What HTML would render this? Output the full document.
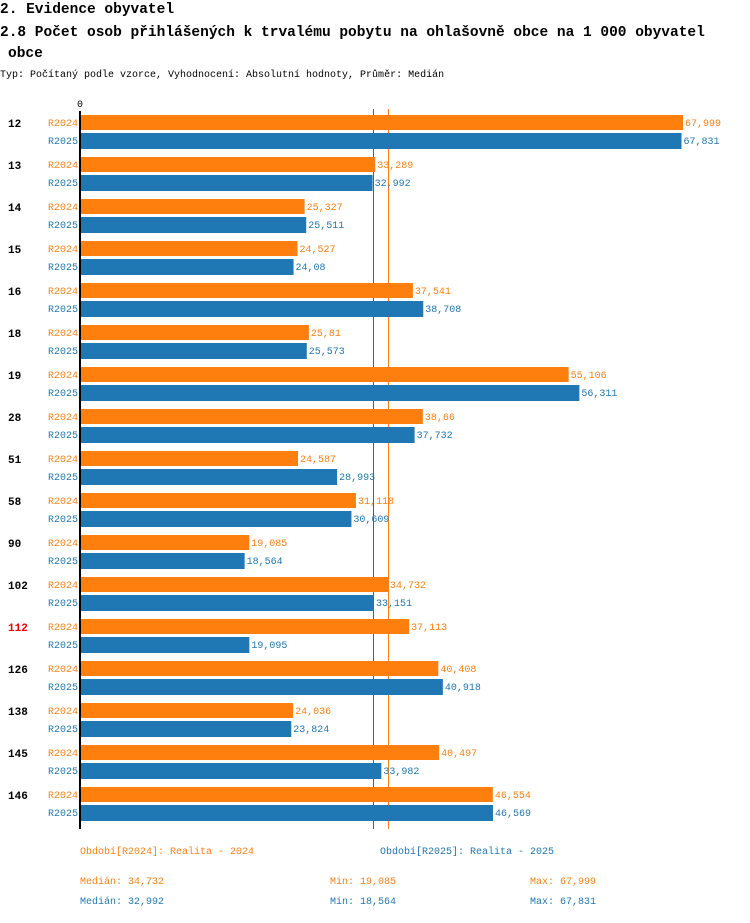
<!DOCTYPE html>
<html><head><meta charset="utf-8"><style>
body{margin:0;background:#fff;font-family:"Liberation Mono","DejaVu Sans Mono",monospace;}
svg text{font-family:"Liberation Mono","DejaVu Sans Mono",monospace;}
</style></head><body>
<svg id="c" width="750" height="918" xmlns="http://www.w3.org/2000/svg">
<text x="0" y="13" font-size="14.5" font-weight="bold" fill="#000">2. Evidence obyvatel</text>
<text x="0" y="36" font-size="14.5" font-weight="bold" fill="#000">2.8 Počet osob přihlášených k trvalému pobytu na ohlašovně obce na 1 000 obyvatel</text>
<text x="8" y="57" font-size="14.5" font-weight="bold" fill="#000">obce</text>
<text x="0" y="77" font-size="10" fill="#000">Typ: Počítaný podle vzorce, Vyhodnocení: Absolutní hodnoty, Průměr: Medián</text>
<text x="80" y="107" font-size="10" text-anchor="middle" fill="#000">0</text>
<g id="bars"></g>
<line x1="80" y1="111" x2="80" y2="829" stroke="#000" stroke-width="2"/>
<text x="80" y="854" font-size="10" fill="#ff7f0e">Období[R2024]: Realita - 2024</text>
<text x="380" y="854" font-size="10" fill="#1f77b4">Období[R2025]: Realita - 2025</text>
<text x="80" y="884" font-size="10" fill="#ff7f0e">Medián: 34,732</text>
<text x="330" y="884" font-size="10" fill="#ff7f0e">Min: 19,085</text>
<text x="530" y="884" font-size="10" fill="#ff7f0e">Max: 67,999</text>
<text x="80" y="904" font-size="10" fill="#1f77b4">Medián: 32,992</text>
<text x="330" y="904" font-size="10" fill="#1f77b4">Min: 18,564</text>
<text x="530" y="904" font-size="10" fill="#1f77b4">Max: 67,831</text>
</svg>
<script>
const categories=["12","13","14","15","16","18","19","28","51","58","90","102","112","126","138","145","146"];
const r2024=[67.999,33.289,25.327,24.527,37.541,25.81,55.106,38.66,24.587,31.118,19.085,34.732,37.113,40.408,24.036,40.497,46.554];
const r2025=[67.831,32.992,25.511,24.08,38.708,25.573,56.311,37.732,28.993,30.609,18.564,33.151,19.095,40.918,23.824,33.982,46.569];
const labels2024=["67,999","33,289","25,327","24,527","37,541","25,81","55,106","38,66","24,587","31,118","19,085","34,732","37,113","40,408","24,036","40,497","46,554"];
const labels2025=["67,831","32,992","25,511","24,08","38,708","25,573","56,311","37,732","28,993","30,609","18,564","33,151","19,095","40,918","23,824","33,982","46,569"];
const medians=[34.732,32.992];
const highlight=["112"];
const NS="http://www.w3.org/2000/svg";
const X0=80, SC=603/67.999;
function xs(v){return X0+v*SC;}
function ys(i){return 115+i*42;}
const g=document.getElementById('bars');
function mk(t,a,txt){const e=document.createElementNS(NS,t);for(const k in a)e.setAttribute(k,a[k]);if(txt!==undefined)e.textContent=txt;g.appendChild(e);return e;}
[[medians[1],'#2a6a9a'],[medians[0],'#ff7f0e']].forEach(m=>{
  const px=Math.round(xs(m[0]))+0.5;
  const l=mk('line',{x1:px,x2:px,y1:109,y2:829,stroke:m[1],'stroke-width':1});
  
  
});
categories.forEach((c,i)=>{
  const y=ys(i);
  const cl=mk('text',{x:8,y:y+12,'font-size':11,'font-weight':'bold',fill:highlight.includes(c)?'#e00':'#000'},c);
  
  
  [[r2024,labels2024,'#ff7f0e','R2024',0,15],[r2025,labels2025,'#1f77b4','R2025',18,16]].forEach(s=>{
    const [vals,lbls,col,nm,off,h]=s;
    const sl=mk('text',{x:78,y:y+off+11,'font-size':10,'text-anchor':'end',fill:col},nm);
    
    
    const r=mk('rect',{x:X0,y:y+off,width:xs(vals[i])-X0,height:h,fill:col});
    
    
    const vl=mk('text',{x:xs(vals[i])+2,y:y+off+11,'font-size':10,fill:col},lbls[i]);
    
    
  });
});
</script>
</body></html>
